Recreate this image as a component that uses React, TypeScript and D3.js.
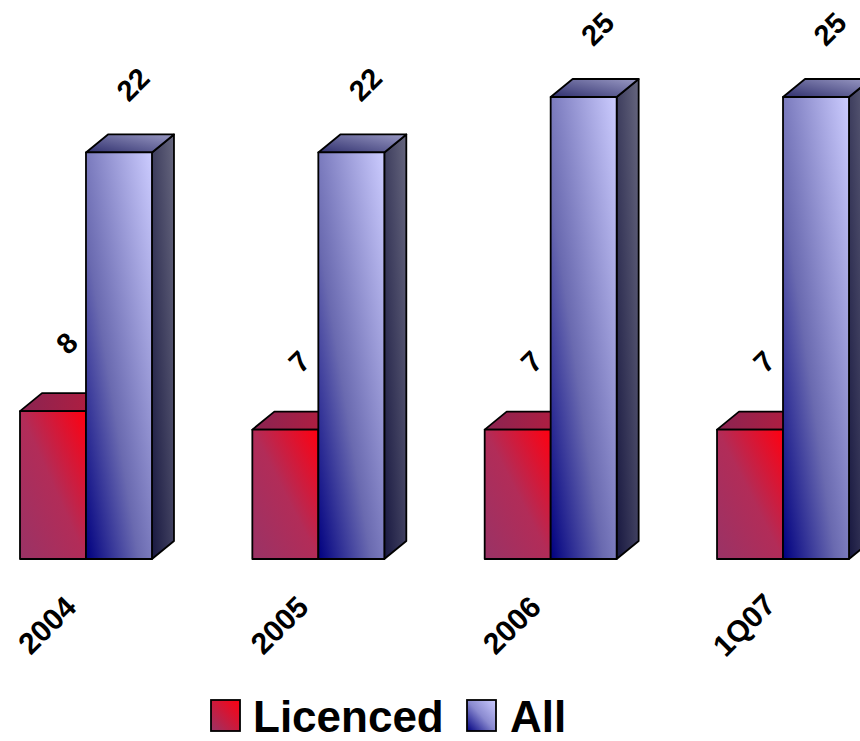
import React from "react";
import * as d3 from "d3";

const categories = ["2004", "2005", "2006", "1Q07"];
const licenced = [8, 7, 7, 7];
const allValues = [22, 22, 25, 25];
const seriesNames = ["Licenced", "All"];

const W = 860;
const H = 741;
const DX = 22;
const DY = 18;
const FONT = "'Liberation Sans', Arial, Helvetica, sans-serif";

export default function App() {
  const x = d3
    .scaleBand<string>()
    .domain(categories)
    .range([20, 849])
    .paddingInner(0.432)
    .paddingOuter(0);
  const y = d3.scaleLinear().domain([0, 25]).range([559, 97]);
  const inner = d3
    .scaleBand<string>()
    .domain(seriesNames)
    .range([0, x.bandwidth()])
    .padding(0);
  const bw = inner.bandwidth();
  const series = [
    { name: "Licenced", values: licenced, key: "lic" },
    { name: "All", values: allValues, key: "all" },
  ];

  const bar = (sx: number, v: number, key: string, idx: string) => {
    const x0 = sx;
    const x1 = sx + bw;
    const y0 = y(0);
    const y1 = y(v);
    const front = `M${x0},${y1}L${x1},${y1}L${x1},${y0}L${x0},${y0}Z`;
    const top = `M${x0},${y1}L${x0 + DX},${y1 - DY}L${x1 + DX},${y1 - DY}L${x1},${y1}Z`;
    const side = `M${x1},${y1}L${x1 + DX},${y1 - DY}L${x1 + DX},${y0 - DY}L${x1},${y0}Z`;
    return (
      <g key={idx}>
        <path d={side} fill={`url(#${key}Side)`} stroke="#000" strokeWidth={1.8} strokeLinejoin="round" />
        <path d={top} fill={`url(#${key}Top)`} stroke="#000" strokeWidth={1.8} strokeLinejoin="round" />
        <path d={front} fill={`url(#${key}Front)`} stroke="#000" strokeWidth={1.8} strokeLinejoin="round" />
      </g>
    );
  };

  return (
    <svg
      width={W}
      height={H}
      style={{ position: "absolute", left: 0, top: 0, background: "#fff" }}
      fontFamily={FONT}
    >
      <defs>
        <linearGradient id="licFront" x1="0" y1="1" x2="1" y2="0">
          <stop offset="0" stopColor="#993366" />
          <stop offset="0.5" stopColor="#b22c58" />
          <stop offset="1" stopColor="#ff0010" />
        </linearGradient>
        <linearGradient id="licTop" x1="0" y1="0" x2="1" y2="0">
          <stop offset="0" stopColor="#8a2452" />
          <stop offset="1" stopColor="#b81c3c" />
        </linearGradient>
        <linearGradient id="licSide" x1="0" y1="1" x2="1" y2="0">
          <stop offset="0" stopColor="#5a1030" />
          <stop offset="1" stopColor="#8a2040" />
        </linearGradient>
        <linearGradient id="allFront" x1="0" y1="1" x2="1" y2="0">
          <stop offset="0" stopColor="#000080" />
          <stop offset="0.4" stopColor="#6a6ab0" />
          <stop offset="1" stopColor="#ccccff" />
        </linearGradient>
        <linearGradient id="allTop" x1="0" y1="1" x2="1" y2="0">
          <stop offset="0" stopColor="#30306e" />
          <stop offset="1" stopColor="#9a9ac4" />
        </linearGradient>
        <linearGradient id="allSide" x1="0" y1="1" x2="1" y2="0">
          <stop offset="0" stopColor="#181840" />
          <stop offset="1" stopColor="#66667e" />
        </linearGradient>
        <linearGradient id="licLeg" x1="0" y1="1" x2="1" y2="0">
          <stop offset="0" stopColor="#993366" />
          <stop offset="1" stopColor="#ff0010" />
        </linearGradient>
        <linearGradient id="allLeg" x1="0" y1="1" x2="1" y2="0">
          <stop offset="0" stopColor="#000080" />
          <stop offset="0.5" stopColor="#8a8ad0" />
          <stop offset="1" stopColor="#ccccff" />
        </linearGradient>
      </defs>

      {categories.map((c, i) => (
        <g key={c}>
          {series.map((s) => bar((x(c) as number) + (inner(s.name) as number), s.values[i], s.key, c + s.key))}
        </g>
      ))}

      {categories.map((c, i) =>
        series.map((s) => {
          const cx = (x(c) as number) + (inner(s.name) as number) + bw / 2 + 14;
          const cy = y(s.values[i]) - 68;
          return (
            <text
              key={c + s.key + "lbl"}
              transform={`translate(${cx},${cy}) rotate(-45)`}
              textAnchor="middle"
              dominantBaseline="central"
              fontSize={29}
              fontWeight="bold"
              fill="#000"
            >
              {s.values[i]}
            </text>
          );
        })
      )}

      {categories.map((c) => (
        <text
          key={c + "cat"}
          transform={`translate(${(x(c) as number) + 27},${625}) rotate(-45)`}
          textAnchor="middle"
          dominantBaseline="central"
          fontSize={30}
          fontWeight="bold"
          fill="#000"
        >
          {c}
        </text>
      ))}

      <g>
        <rect x={211} y={700} width={29} height={31} fill="url(#licLeg)" stroke="#000" strokeWidth={1.8} />
        <text x={253} y={732} fontSize={44} fontWeight="bold" fill="#000">
          {seriesNames[0]}
        </text>
        <rect x={467} y={700} width={29} height={31} fill="url(#allLeg)" stroke="#000" strokeWidth={1.8} />
        <text x={510} y={732} fontSize={44} fontWeight="bold" fill="#000">
          {seriesNames[1]}
        </text>
      </g>
    </svg>
  );
}
